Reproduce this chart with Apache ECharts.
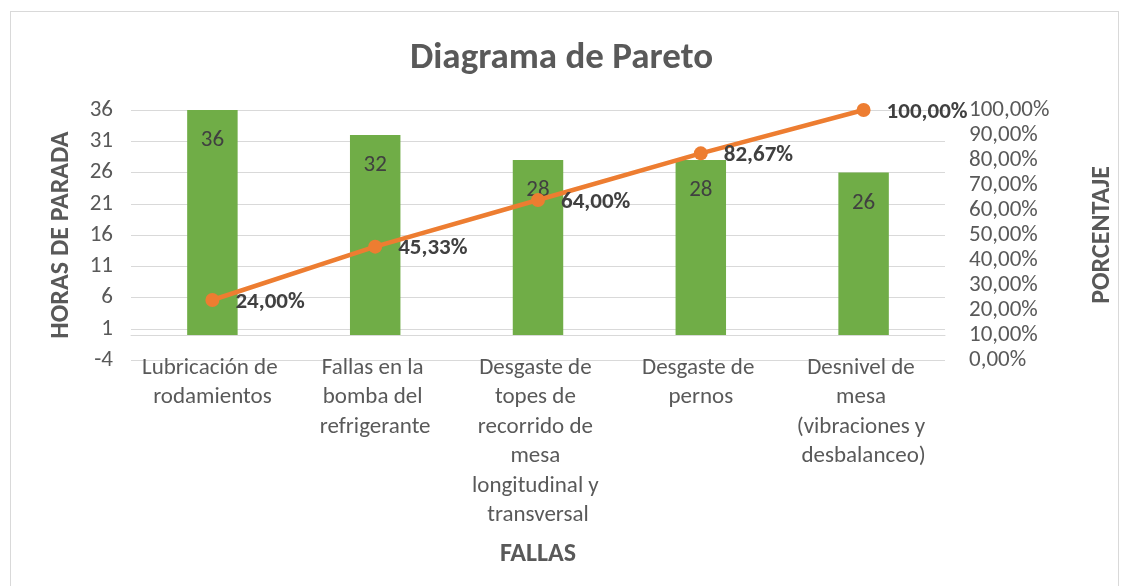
<!DOCTYPE html>
<html>
<head>
<meta charset="utf-8">
<title>Diagrama de Pareto</title>
<script src="https://cdn.jsdelivr.net/npm/echarts@6/dist/echarts.min.js"></script>
<style>
  html, body { margin: 0; padding: 0; background: #fff; }
  #chart { width: 1123px; height: 586px; position: relative; }
  .frame { position: absolute; left: 10px; top: 11px; width: 1107px; height: 600px; border: 1px solid #d9d9d9; pointer-events: none; }
</style>
</head>
<body>
<div id="chart"></div>
<div class="frame"></div>
<script>
// datos del diagrama
var fallas = ["Lubricación de rodamientos", "Fallas en la bomba del refrigerante", "Desgaste de topes de recorrido de mesa longitudinal y transversal", "Desgaste de pernos", "Desnivel de mesa (vibraciones y desbalanceo)"];
var horas = [36, 32, 28, 28, 26];
var porcentaje = [24.00, 45.33, 64.00, 82.67, 100.00];
var ticksHoras = [-4, 1, 6, 11, 16, 21, 26, 31, 36];
var ticksPorcentaje = [0, 10, 20, 30, 40, 50, 60, 70, 80, 90, 100];

var fuente = "Carlito, Lato, sans-serif";
var gris = "#595959";

function pct(v) {
  return Number(v).toFixed(2).replace(".", ",") + "%";
}

var chart = echarts.init(document.getElementById("chart"));
chart.setOption({
  textStyle: { fontFamily: fuente },
  title: {
    text: "Diagrama de Pareto",
    left: "center",
    top: 35,
    textStyle: { fontFamily: fuente, fontSize: 37, fontWeight: "bold", color: gris }
  },
  grid: { left: 131, right: 175, top: 110, bottom: 226, containLabel: false },
  xAxis: {
    type: "category",
    data: fallas,
    name: "FALLAS",
    nameLocation: "middle",
    nameGap: 181,
    nameTextStyle: { fontFamily: fuente, fontSize: 26, fontWeight: "bold", color: gris },
    axisLine: { lineStyle: { color: "#d9d9d9" } },
    axisTick: { show: false },
    axisLabel: {
      interval: 0,
      margin: -7,
      width: 152,
      overflow: "break",
      lineHeight: 29.5,
      fontSize: 23,
      color: gris,
      fontFamily: fuente
    }
  },
  yAxis: [
    {
      type: "value",
      min: -4,
      max: 36,
      name: "HORAS DE PARADA",
      nameLocation: "middle",
      nameRotate: 90,
      nameGap: 57,
      nameTextStyle: { fontFamily: fuente, fontSize: 26, fontWeight: "bold", color: gris },
      axisLine: { show: false },
      axisTick: { show: false, customValues: ticksHoras },
      axisLabel: { customValues: ticksHoras, margin: 18, fontSize: 23, color: gris, fontFamily: fuente },
      splitLine: { show: true, lineStyle: { color: "#d9d9d9", width: 1 } }
    },
    {
      type: "value",
      min: 0,
      max: 100,
      interval: 10,
      position: "right",
      name: "PORCENTAJE",
      nameLocation: "middle",
      nameRotate: 90,
      nameGap: 144,
      nameTextStyle: { fontFamily: fuente, fontSize: 26, fontWeight: "bold", color: gris },
      axisLine: { show: false },
      axisTick: { show: false },
      axisLabel: {
        margin: 24,
        fontSize: 23,
        color: gris,
        fontFamily: fuente,
        formatter: function (v) { return pct(v); }
      },
      splitLine: { show: false }
    }
  ],
  series: [
    {
      name: "Horas de parada",
      type: "bar",
      yAxisIndex: 0,
      data: horas,
      barWidth: "31%",
      itemStyle: { color: "#70AD47" },
      label: {
        show: true,
        position: "insideTop",
        distance: 19,
        fontSize: 23,
        color: "#404040",
        fontFamily: fuente
      },
      markLine: {
        silent: true,
        symbol: "none",
        label: { show: false },
        lineStyle: { color: "#d9d9d9", type: "solid", width: 1 },
        data: [{ yAxis: 0 }]
      },
      z: 2
    },
    {
      name: "Porcentaje",
      type: "line",
      yAxisIndex: 1,
      data: porcentaje,
      symbol: "circle",
      symbolSize: 14,
      lineStyle: { color: "#ED7D31", width: 4.5 },
      itemStyle: { color: "#ED7D31" },
      label: {
        show: true,
        position: "right",
        distance: 16,
        offset: [0, 2],
        fontSize: 23,
        fontWeight: "bold",
        color: "#404040",
        fontFamily: fuente,
        formatter: function (p) { return pct(p.value); }
      },
      z: 3
    }
  ]
});
window.addEventListener("resize", function () {
  chart.resize();
});
</script>
</body>
</html>
